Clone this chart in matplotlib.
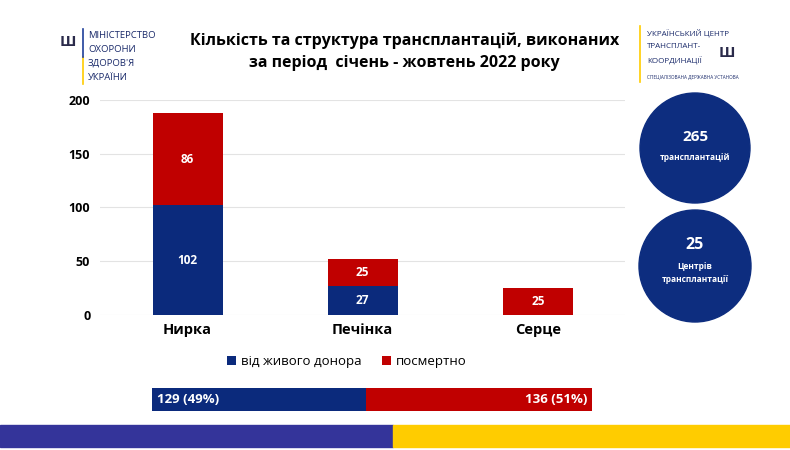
import matplotlib.pyplot as plt
from matplotlib.patches import Circle, Rectangle

plt.rcParams['font.family'] = ['Open Sans', 'DejaVu Sans']

# data
organs = ["Нирка", "Печінка", "Серце"]
living = [102, 27, 0]
deceased = [86, 25, 25]
series_names = ["від живого донора", "посмертно"]
total_living = 129
total_deceased = 136
total_transplants = 265
total_centers = 25

blue = "#0b2a7c"
red = "#c00000"

fig = plt.figure(figsize=(7.9, 4.5), dpi=100)
fig.patch.set_facecolor("white")

# main stacked bars
ax = fig.add_axes([0.1266, 0.30, 0.665, 0.478])
x = range(len(organs))
ax.bar(x, living, width=0.4, color=blue, label=series_names[0], zorder=3)
ax.bar(x, deceased, width=0.4, bottom=living, color=red, label=series_names[1], zorder=3)
for i in x:
    if living[i] > 0:
        ax.text(i, living[i] / 2, str(living[i]), ha="center", va="center",
                color="white", fontsize=8.5, fontweight="bold", zorder=4)
    ax.text(i, living[i] + deceased[i] / 2, str(deceased[i]), ha="center", va="center",
            color="white", fontsize=8.5, fontweight="bold", zorder=4)
ax.set_xlim(-0.5, 2.5)
ax.set_ylim(0, 200)
ax.set_yticks([0, 50, 100, 150, 200])
ax.set_xticks(list(x))
ax.set_xticklabels(organs, fontsize=10.5, fontweight="bold")
ax.tick_params(axis="y", labelsize=9, length=0, pad=7)
ax.tick_params(axis="x", length=0, pad=6)
for lbl in ax.get_yticklabels():
    lbl.set_fontweight("bold")
ax.grid(axis="y", color="#e3e3e3", linewidth=0.8, zorder=0)
for s in ax.spines.values():
    s.set_visible(False)
ax.legend(loc="upper center", bbox_to_anchor=(0.47, -0.13), ncol=2, frameon=False,
          fontsize=9.5, handlelength=0.7, handleheight=0.7, columnspacing=1.5,
          handletextpad=0.4)

# title
fig.text(0.512, 0.885, "Кількість та структура трансплантацій, виконаних\nза період  січень - жовтень 2022 року",
         ha="center", va="center", fontsize=11.5, fontweight="bold", linespacing=1.45)

# bottom summary bar
bx = fig.add_axes([152 / 790, 1 - 411 / 450, 440 / 790, 23 / 450])
bx.barh([0], [total_living], color=blue, height=1)
bx.barh([0], [total_deceased], left=[total_living], color=red, height=1)
bx.set_xlim(0, total_living + total_deceased)
bx.set_ylim(-0.5, 0.5)
bx.axis("off")
tot = total_living + total_deceased
bx.text(3, 0, f"{total_living} ({round(total_living / tot * 100)}%)", color="white",
        fontsize=9.5, fontweight="bold", va="center", ha="left")
bx.text(tot - 3, 0, f"{total_deceased} ({round(total_deceased / tot * 100)}%)", color="white",
        fontsize=9.5, fontweight="bold", va="center", ha="right")

# flag stripe
fig.patches.append(Rectangle((0, 3 / 450), 393 / 790, 22 / 450, transform=fig.transFigure,
                             color="#34349a", zorder=0))
fig.patches.append(Rectangle((393 / 790, 3 / 450), 397 / 790, 22 / 450, transform=fig.transFigure,
                             color="#ffcc00", zorder=0))

# circles
cx = fig.add_axes([635 / 790, 1 - 330 / 450, 120 / 790, 240 / 450])
cx.set_xlim(0, 120)
cx.set_ylim(0, 240)
cx.axis("off")
cx.add_patch(Circle((60, 182), 55, color="#0d2d7f"))
cx.add_patch(Circle((60, 64), 56, color="#0d2d7f"))
cx.text(60, 193, str(total_transplants), color="white", fontsize=11, fontweight="bold",
        ha="center", va="center")
cx.text(60, 173, "трансплантацій", color="white", fontsize=6, fontweight="bold",
        ha="center", va="center")
cx.text(60, 85, str(total_centers), color="white", fontsize=11.5, fontweight="bold",
        ha="center", va="center")
cx.text(60, 57, "Центрів\nтрансплантації", color="white", fontsize=6, fontweight="bold",
        ha="center", va="center", linespacing=1.7)

# logos (text parts)
fig.add_artist(plt.Line2D([83 / 790, 83 / 790], [1 - 84 / 450, 1 - 57 / 450], color="#ffcc00",
                          lw=1.2, transform=fig.transFigure))
fig.add_artist(plt.Line2D([83 / 790, 83 / 790], [1 - 57 / 450, 1 - 29 / 450], color="#1f3f9a",
                          lw=1.2, transform=fig.transFigure))
left_logo = ["МІНІСТЕРСТВО", "ОХОРОНИ", "ЗДОРОВ'Я", "УКРАЇНИ"]
for k, line in enumerate(left_logo):
    fig.text(88 / 790, 1 - (35 + 14 * k) / 450, line, fontsize=6.8,
             color="#1a2a6a", va="center", ha="left")
fig.text(68 / 790, 1 - 42 / 450, "\u0428", fontsize=11, color="#2a2a4a", ha="center", va="center",
         fontweight="bold")
fig.add_artist(plt.Line2D([640 / 790, 640 / 790], [1 - 82 / 450, 1 - 26 / 450], color="#ffcc00",
                          lw=1.2, transform=fig.transFigure))
right_logo = ["УКРАЇНСЬКИЙ ЦЕНТР", "ТРАНСПЛАНТ-", "КООРДИНАЦІЇ"]
for k, line in enumerate(right_logo):
    fig.text(647 / 790, 1 - (33 + 14 * k) / 450, line, fontsize=5.8,
             color="#1a2a6a", va="center", ha="left")
fig.text(647 / 790, 1 - 77 / 450, "СПЕЦІАЛІЗОВАНА ДЕРЖАВНА УСТАНОВА", fontsize=3.3,
         color="#1a2a6a", va="center", ha="left")
fig.text(727 / 790, 1 - 53 / 450, "\u0428", fontsize=11, color="#2a2a4a", ha="center", va="center",
         fontweight="bold")

fig.savefig("out.png", dpi=100)
